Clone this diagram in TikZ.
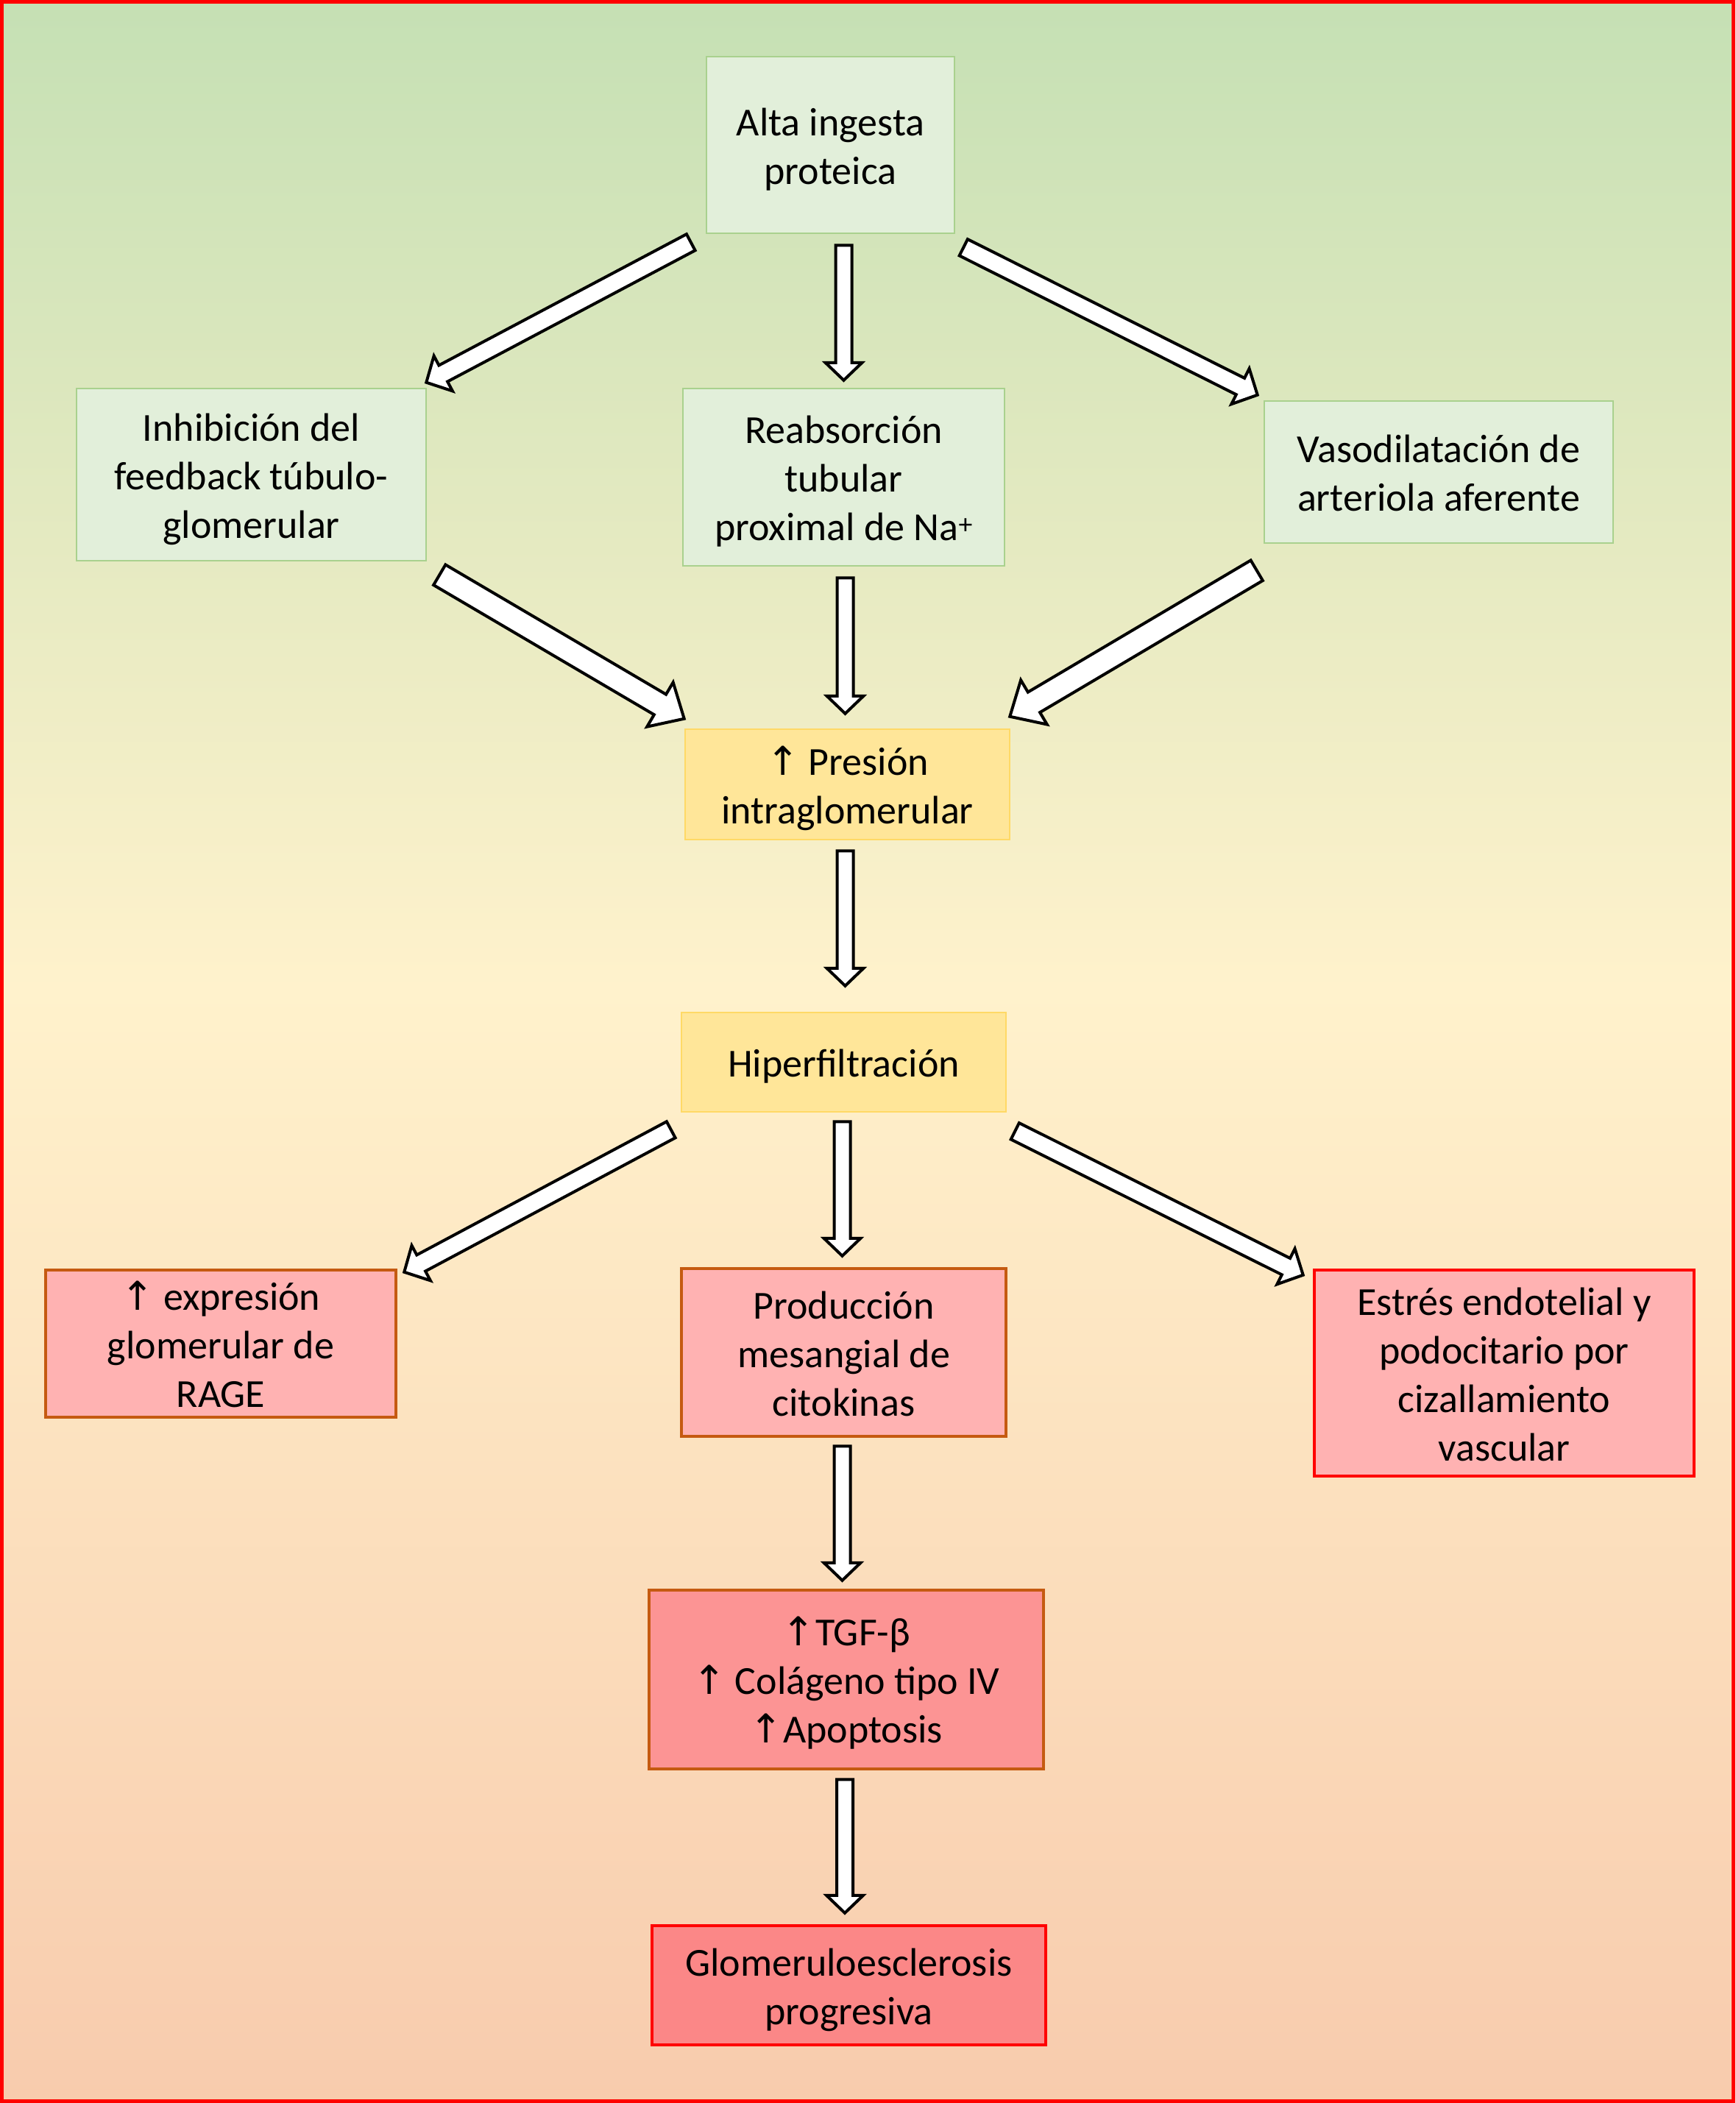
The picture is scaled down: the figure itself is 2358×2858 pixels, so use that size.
\documentclass[tikz,border=0pt]{standalone}
\usepackage{fontspec}
\setmainfont{Carlito}
\newfontfamily\arrfont{DejaVu Sans}
\usetikzlibrary{calc}
\definecolor{bgtop}{HTML}{C5E0B4}
\definecolor{bgmid}{HTML}{FFF2CC}
\definecolor{bgbot}{HTML}{F8CBAD}
\definecolor{gfill}{HTML}{E2EFDA}
\definecolor{gline}{HTML}{A9D18E}
\definecolor{yfill}{HTML}{FFE699}
\definecolor{yline}{HTML}{FFD966}
\definecolor{pfill}{HTML}{FFB2B2}
\definecolor{p2fill}{HTML}{FC9494}
\definecolor{p3fill}{HTML}{FB8787}
\definecolor{oline}{HTML}{C55A11}
\definecolor{rline}{HTML}{FF0000}
\newcommand\up{{\arrfont ↑}}
\newcommand\txt[1]{\raisebox{-7pt}[\height][\depth]{\begin{tabular}{@{}c@{}}#1\end{tabular}}}
\tikzset{
  box/.style={rectangle, inner sep=0pt, align=center, text=black,
    font=\fontsize{54}{66}\selectfont},
  greenbox/.style={box, fill=gfill, draw=gline, line width=2.5pt},
  yellowbox/.style={box, fill=yfill, draw=yline, line width=2.5pt},
  pinkbox/.style={box, fill=pfill, draw=oline, line width=4.5pt},
  pinkredbox/.style={box, fill=pfill, draw=rline, line width=4.5pt},
  salmonbox/.style={box, fill=p2fill, draw=oline, line width=4.5pt},
  redbox/.style={box, fill=p3fill, draw=rline, line width=4.5pt},
  arrowshape/.style={draw=black, fill=white, line width=4pt, line join=miter}
}
% #1 start, #2 end, #3 shaft half width, #4 head half width, #5 head length
\newcommand\barrow[5]{%
  \path[arrowshape] let \p1=(#1), \p2=(#2),
    \n1={atan2(\y2-\y1,\x2-\x1)}, \n2={veclen(\x2-\x1,\y2-\y1)} in
    [shift={(\p1)}, rotate=\n1]
    (0pt,{-#3pt}) -- ({\n2-#5pt},{-#3pt}) -- ({\n2-#5pt},{-#4pt})
    -- ({\n2+0pt},0pt) -- ({\n2-#5pt},{#4pt}) -- ({\n2-#5pt},{#3pt})
    -- (0pt,{#3pt}) -- cycle;
}
\begin{document}
\begin{tikzpicture}[x=1pt,y=-1pt]
\useasboundingbox (0,0) rectangle (2358,2858);
\shade[top color=bgtop, bottom color=bgmid] (0,0) rectangle (2358,1345);
\shade[top color=bgmid, bottom color=bgbot] (0,1344) rectangle (2358,2858);
\draw[rline, line width=5pt] (2.5,2.5) rectangle (2355.5,2855.5);

\node[greenbox, minimum width=337pt, minimum height=240pt] (alta) at (1128.5,197) {\txt{Alta ingesta\\proteica}};
\node[greenbox, minimum width=475pt, minimum height=234pt] (inhib) at (341.5,645) {\txt{Inhibición del\\feedback túbulo-\\glomerular}};
\node[greenbox, minimum width=437pt, minimum height=241pt] (reab) at (1146.5,648.5) {\txt{Reabsorción\\tubular\\proximal de Na\textsuperscript{+}}};
\node[greenbox, minimum width=474pt, minimum height=193pt] (vaso) at (1955,641.5) {\txt{Vasodilatación de\\arteriola aferente}};
\node[yellowbox, minimum width=441pt, minimum height=150pt] (pres) at (1151.5,1066) {\txt{\up{} Presión\\intraglomerular}};
\node[yellowbox, minimum width=441pt, minimum height=135pt] (hiper) at (1146.5,1443.5) {\txt{Hiperfiltración}};
\node[pinkbox, minimum width=476pt, minimum height=200pt] (rage) at (300,1826) {\txt{\up{} expresión\\glomerular de\\RAGE}};
\node[pinkbox, minimum width=441pt, minimum height=228pt] (prod) at (1146.5,1838) {\txt{Producción\\mesangial de\\citokinas}};
\node[pinkredbox, minimum width=516pt, minimum height=280pt] (estres) at (2044,1866) {\txt{Estrés endotelial y\\podocitario por\\cizallamiento\\vascular}};
\node[salmonbox, minimum width=536pt, minimum height=243pt] (tgf) at (1150,2282.5) {\txt{\up{}TGF-β\\\up{} Colágeno tipo IV\\\up{}Apoptosis}};
\node[redbox, minimum width=535pt, minimum height=162pt] (glom) at (1153.5,2698) {\txt{Glomeruloesclerosis\\progresiva}};

% arrows from Alta ingesta
\barrow{$(alta.south west)+(-20,11)$}{$(inhib.north east)+(-1,-7)$}{12.5}{27}{26}
\barrow{$(alta.south -| reab.north)+(0,15)$}{$(reab.north)+(0,-10)$}{11}{25}{24}
\barrow{$(alta.south east)+(11,18)$}{$(vaso.north west)+(-8,-7)$}{12.5}{27}{26}
% arrows to Presion
\barrow{$(inhib.south east)+(17,18)$}{$(pres.north west)+(0,-13)$}{16}{35}{38}
\barrow{$(reab.south)+(2,15)$}{$(pres.north -| reab.south)+(2,-20)$}{11}{25}{24}
\barrow{$(vaso.south west)+(-9,36)$}{$(pres.north east)+(-1,-16)$}{16}{35}{38}
% Presion to Hiperfiltracion
\barrow{$(pres.south)+(-3,14)$}{$(hiper.north -| pres.south)+(-3,-35)$}{11}{25}{24}
% from Hiperfiltracion
\barrow{$(hiper.south west)+(-13,23)$}{$(rage.north east)+(9,5)$}{12.5}{27}{26}
\barrow{$(hiper.south)+(-2,12)$}{$(prod.north)+(-2,-15)$}{11}{25}{24}
\barrow{$(hiper.south east)+(11,25)$}{$(estres.north west)+(-13,9)$}{12.5}{27}{26}
% lower chain
\barrow{$(prod.south)+(-2,11)$}{$(tgf.north -| prod.south)+(-2,-11)$}{11}{25}{24}
\barrow{$(tgf.south)+(-2,12)$}{$(glom.north -| tgf.south)+(-2,-15)$}{11}{25}{24}
\end{tikzpicture}
\end{document}
